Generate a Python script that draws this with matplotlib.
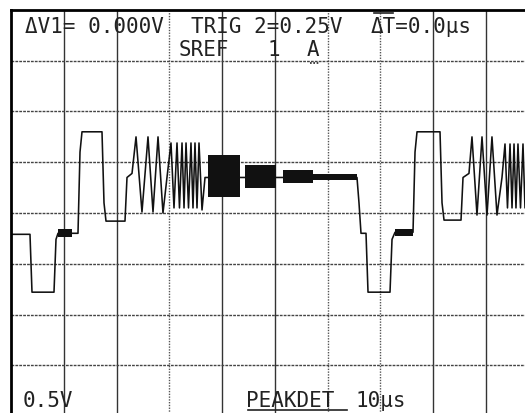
import matplotlib
matplotlib.use("Agg")
import matplotlib.pyplot as plt
from matplotlib.lines import Line2D

# scope trace, time in us (10 us/div), level in V (0.5 V/div)
trace_t = [0.00, 3.60, 3.98, 8.15, 8.53, 8.91, 12.70, 13.08, 13.46, 17.25,
           17.63, 18.01, 21.61, 21.99, 22.94, 23.70, 24.83, 25.97, 26.92, 27.87,
           28.81, 29.57, 30.33, 30.90, 31.47, 31.94, 32.42, 32.80, 33.18, 33.65,
           34.12, 34.50, 34.88, 35.26, 35.64, 36.21, 36.78, 65.59, 65.97, 66.35,
           67.30, 67.68, 71.85, 72.23, 72.80, 76.21, 76.59, 76.97, 81.33, 81.71,
           82.09, 85.31, 85.69, 86.82, 87.39, 88.34, 89.29, 90.24, 91.18, 92.13,
           93.08, 93.65, 94.12, 94.60, 94.98, 95.36, 95.73, 96.11, 96.59, 97.06,
           97.44, 97.90]
trace_v = [1.79, 1.79, 1.22, 1.22, 1.74, 1.80, 1.80, 2.60, 2.80, 2.80,
           2.10, 1.92, 1.92, 2.35, 2.39, 2.75, 2.01, 2.75, 2.01, 2.75,
           2.00, 2.35, 2.69, 2.05, 2.69, 2.05, 2.69, 2.05, 2.69, 2.05,
           2.69, 2.05, 2.69, 2.05, 2.69, 2.03, 2.35, 2.35, 2.10, 1.80,
           1.80, 1.22, 1.22, 1.74, 1.81, 1.81, 2.60, 2.80, 2.80, 2.10,
           1.93, 1.93, 2.35, 2.39, 2.75, 1.98, 2.75, 1.98, 2.75, 1.98,
           2.35, 2.68, 2.05, 2.68, 2.05, 2.68, 2.05, 2.68, 2.05, 2.68,
           2.05, 2.68]

# peak-detect envelopes of the dense bursts
burst_start = [37.35, 44.36, 51.56, 57.25, 8.91, 72.80]
burst_end = [43.41, 50.24, 57.25, 65.59, 11.60, 76.21]
burst_low = [2.16, 2.25, 2.30, 2.33, 1.76, 1.77]
burst_high = [2.57, 2.47, 2.42, 2.38, 1.84, 1.84]

W, H = 525, 413
fig = plt.figure(figsize=(W / 100, H / 100), dpi=100)
fig.patch.set_facecolor("white")

# graticule: 10 x 8 div, left edge at x=11 px, top edge at y=10 px
ax = fig.add_axes([11 / W, (H - 416) / H, 527.5 / W, 406 / H])
ax.set_xlim(0, 100)
ax.set_ylim(0, 4)
ax.axis("off")

solid_cols = [10, 20, 40, 50, 80, 90]
for i in range(1, 10):
    xv = i * 10
    if xv in solid_cols:
        ax.axvline(xv, color="#333333", lw=1.0, zorder=1)
    else:
        ax.axvline(xv, color="#555555", lw=1.0, ls=(0, (1, 1)), zorder=1)
for j in range(1, 8):
    ax.axhline(j * 0.5, color="#444444", lw=1.0, ls=(0, (2, 0.8)), zorder=1)

ax.plot(trace_t, trace_v, color="#111111", lw=1.15, zorder=3)
for t0, t1, lo, hi in zip(burst_start, burst_end, burst_low, burst_high):
    ax.fill_between([t0, t1], [lo, lo], [hi, hi], color="#111111", lw=0, zorder=3)

# frame (top and left edges)
fig.add_artist(Line2D([11 / W, 1], [1 - 10 / H, 1 - 10 / H], color="black", lw=2))
fig.add_artist(Line2D([11 / W, 11 / W], [0, 1 - 10 / H], color="black", lw=2))


def label(x, y, s):
    fig.text(x / W, 1 - y / H, s, ha="left", va="center", fontsize=15,
             family="DejaVu Sans Mono", color="#222222")


def mark(x0, x1, y, ls="-"):
    fig.add_artist(Line2D([x0 / W, x1 / W], [1 - y / H, 1 - y / H],
                          color="#222222", lw=1.2, ls=ls))


label(25, 27, "ΔV1= 0.000V")
label(191, 27, "TRIG 2=0.25V")
label(371, 27, "ΔT=0.0µs")
mark(374, 393, 13)
label(179, 50, "SREF")
label(268, 50, "1")
label(307, 50, "A")
mark(310, 320, 63, ls=(0, (1, 1)))
label(23, 401, "0.5V")
label(246, 401, "PEAKDET")
mark(248, 347, 410)
label(356, 401, "10µs")

fig.savefig("out.png", dpi=100, facecolor="white")
